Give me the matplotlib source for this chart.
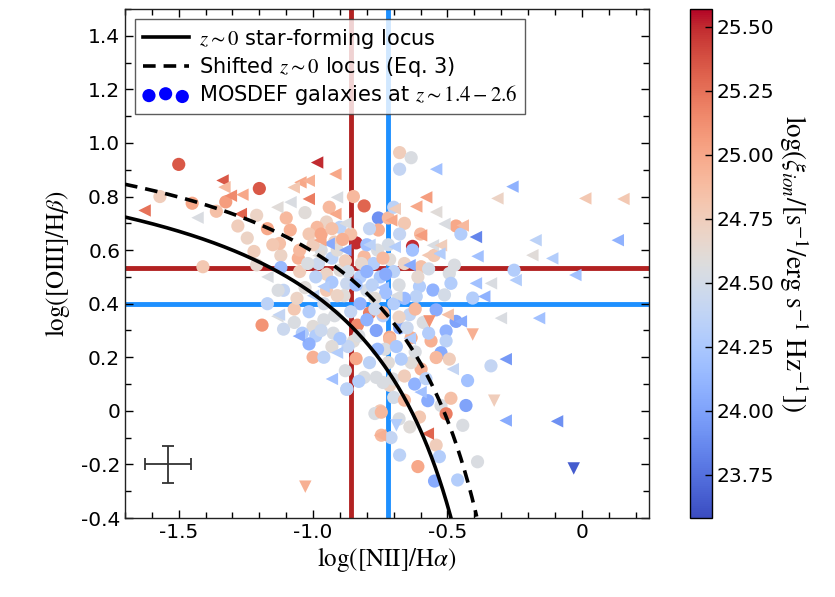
import numpy as np
import matplotlib
matplotlib.use('Agg')
import matplotlib.pyplot as plt
from matplotlib.ticker import MultipleLocator, FuncFormatter

plt.rcParams['mathtext.fontset'] = 'stix'
plt.rcParams['font.family'] = ['DejaVu Sans']
plt.rcParams['axes.unicode_minus'] = False

# detections: log([NII]/Ha), log([OIII]/Hb), log(xi_ion)
circ_x = [-1.50, -1.20, -1.57, -1.45, -1.325, -1.36, -1.21, -1.17, -1.085, -1.245,
          -1.22, -1.12, -1.055, -1.125, -0.95, -0.985, -1.015, -0.90, -0.85, -0.81,
          -0.757, -0.757, -0.84, -0.81, -0.775, -0.715, -1.41, -1.21, -1.12, -1.11,
          -0.90, -0.95, -0.875, -0.825, -0.80, -0.75, -0.885, -0.825, -1.19, -1.07,
          -1.015, -1.0, -0.92, -0.835, -0.79, -0.74, -1.11, -0.96, -0.925, -0.99,
          -1.015, -1.0, -0.96, -0.875, -0.84, -0.85, -0.765, -0.715, -0.81, -0.765,
          -0.715, -0.75, -0.77, -0.678, -0.635, -0.678, -0.66, -0.468, -0.45, -0.678,
          -0.63, -0.63, -0.474, -0.598, -0.252, -0.493, -0.487, -0.554, -0.604, -0.616,
          -0.511, -0.406, -0.542, -0.468, -0.505, -0.635, -0.561, -0.505, -0.715, -0.678,
          -0.74, -0.641, -0.524, -0.493, -0.542, -0.598, -0.635, -0.672, -0.733, -0.338,
          -0.622, -0.425, -0.703, -0.74, -0.573, -0.524, -0.487, -0.431, -0.505, -0.604,
          -0.746, -0.443, -0.746, -0.542, -0.678, -0.53, -0.61, -0.388, -0.548, -0.462,
          -0.874, -0.97, -0.93, -0.88, -0.86, -0.79, -0.72, -0.70, -0.68, -0.73,
          -0.77, -0.86, -0.95, -1.03, -1.05, -0.98, -0.66, -0.70, -0.66, -0.61,
          -0.57, -0.55, -0.60, -0.72, -0.70, -0.80, -0.92, -0.94,
          -1.05, -1.00, -0.97, -0.93, -0.91, -0.89, -1.02, -0.99, -0.96, -0.93,
          -0.91, -0.87, -0.84, -0.82, -0.80, -0.78, -0.76, -0.74, -0.73, -0.77,
          -0.80, -0.83, -0.87, -0.90, -0.93, -0.97, -1.04, -1.07, -0.88, -0.83,
          -0.79, -0.76, -0.72, -0.69, -0.68, -0.65, -0.62, -0.59, -0.57, -0.66,
          -0.62, -0.58, -0.70, -0.66, -0.64, -0.71, -0.68, -1.13, -1.17, -1.06,
          -1.15, -1.28, -1.10, -1.03]
circ_y = [0.92, 0.83, 0.80, 0.775, 0.78, 0.745, 0.73, 0.68, 0.675, 0.645,
          0.595, 0.58, 0.57, 0.625, 0.705, 0.685, 0.66, 0.685, 0.80, 0.765,
          0.72, 0.675, 0.627, 0.575, 0.55, 0.565, 0.538, 0.545, 0.535, 0.45,
          0.525, 0.51, 0.475, 0.50, 0.45, 0.50, 0.43, 0.40, 0.32, 0.38,
          0.37, 0.315, 0.355, 0.32, 0.365, 0.355, 0.305, 0.34, 0.29, 0.28,
          0.25, 0.20, 0.20, 0.08, 0.195, 0.26, 0.30, 0.275, 0.125, 0.125,
          0.095, 0.0, -0.01, 0.964, 0.945, 0.902, 0.70, 0.69, 0.66, 0.66,
          0.614, 0.60, 0.544, 0.538, 0.525, 0.513, 0.476, 0.451, 0.464, 0.427,
          0.433, 0.421, 0.377, 0.334, 0.298, 0.273, 0.261, 0.261, 0.267, 0.31,
          0.366, 0.359, 0.217, 0.193, 0.199, 0.156, 0.18, 0.193, 0.23, 0.168,
          0.10, 0.113, 0.119, 0.106, 0.038, 0.02, 0.047, 0.02, -0.011, -0.023,
          -0.005, -0.054, -0.091, -0.128, -0.165, -0.171, -0.208, -0.19, -0.262, -0.258,
          0.082, 0.60, 0.57, 0.56, 0.66, 0.68, 0.62, 0.52, 0.47, 0.44,
          0.42, 0.37, 0.45, 0.46, 0.52, 0.55, 0.55, 0.40, 0.42, 0.50,
          0.53, 0.58, 0.66, 0.72, 0.76, 0.62, 0.63, 0.76,
          0.60, 0.62, 0.66, 0.68, 0.60, 0.64, 0.55, 0.50, 0.40, 0.48,
          0.43, 0.52, 0.47, 0.55, 0.52, 0.47, 0.60, 0.57, 0.51, 0.38,
          0.34, 0.28, 0.24, 0.27, 0.24, 0.30, 0.29, 0.33, 0.15, 0.11,
          0.18, 0.23, 0.18, 0.24, 0.35, 0.31, 0.38, 0.33, 0.29, 0.13,
          0.22, 0.12, 0.05, 0.04, -0.06, -0.10, -0.03, 0.45, 0.40, 0.42,
          0.62, 0.69, 0.72, 0.74]
circ_c = [25.35, 25.35, 24.75, 25.0, 25.05, 24.85, 24.7, 25.0, 24.95, 24.7,
          24.75, 24.7, 24.95, 24.85, 24.7, 24.9, 24.8, 24.35, 24.9, 25.3,
          23.9, 24.95, 25.5, 24.9, 24.3, 24.6, 24.8, 24.65, 24.15, 24.4,
          24.6, 24.7, 24.45, 24.3, 24.5, 24.25, 24.6, 24.1, 25.1, 24.8,
          24.3, 24.6, 24.55, 25.15, 25.2, 24.3, 24.45, 24.55, 24.55, 24.3,
          24.1, 24.95, 24.35, 24.4, 25.0, 24.6, 24.0, 25.0, 24.55, 24.55,
          24.7, 24.8, 24.55, 24.75, 24.55, 24.4, 24.8, 25.0, 24.3, 24.4,
          25.5, 24.2, 24.55, 24.85, 24.3, 24.55, 24.3, 24.1, 24.3, 24.35,
          24.5, 24.3, 24.05, 24.0, 24.1, 24.95, 24.95, 24.35, 24.9, 24.05,
          24.9, 24.4, 24.05, 24.75, 24.9, 24.95, 24.6, 24.3, 24.55, 24.4,
          24.1, 24.2, 24.55, 24.55, 24.05, 24.55, 24.85, 24.0, 25.2, 24.8,
          24.9, 24.55, 24.9, 24.75, 24.35, 24.3, 25.0, 24.55, 24.05, 24.3,
          24.35, 24.55, 24.35, 24.75, 24.85, 24.4, 24.5, 24.35, 24.55, 24.2,
          24.6, 24.4, 24.8, 24.6, 24.75, 24.45, 24.7, 24.3, 24.15, 24.65,
          24.5, 24.8, 24.9, 24.9, 24.35, 24.2, 24.75, 24.9,
          24.9, 24.75, 25.0, 24.85, 24.6, 24.95, 24.55, 24.35, 24.5, 24.25,
          24.7, 24.5, 24.2, 24.65, 24.1, 24.35, 24.55, 24.9, 24.05, 24.45,
          24.1, 24.55, 24.4, 24.25, 24.6, 24.45, 24.3, 24.55, 24.55, 24.3,
          24.35, 24.15, 24.6, 24.25, 24.7, 24.45, 24.9, 24.55, 24.3, 24.75,
          24.55, 24.35, 24.5, 24.9, 24.6, 24.4, 24.55, 24.55, 24.35, 24.7,
          24.8, 24.75, 24.9, 24.6]

# upper limits in [NII]
lim_x = [-0.985, -0.917, -1.337, -1.33, -1.047, -1.016, -1.072, -1.306, -1.263, -1.016,
         -1.084, -1.43, -1.627, -1.269, -1.133, -0.911, -0.942, -0.88, -0.973, -0.917,
         -1.17, -0.961, -1.133, -0.542, -0.258, -0.314, 0.013, 0.155, -0.579, -0.616,
         -0.696, -0.542, -0.709, -0.511, -0.443, -0.394, -0.598, -0.172, 0.134, -0.554,
         -0.524, -0.53, -0.573, -0.388, -0.184, -0.11, -0.696, -0.024, -0.641, -0.394,
         -0.338, -0.246, -0.363, -0.499, -0.301, -0.159, -0.45, -0.283, -0.48, -0.283,
         -0.092, -0.573, -1.127, -1.053, -0.911, -0.93, -0.751,
         -0.98, -0.88, -0.79, -0.74, -1.0, -0.69, -0.64, -0.60]
lim_y = [0.927, 0.884, 0.86, 0.835, 0.853, 0.859, 0.834, 0.803, 0.807, 0.791,
         0.779, 0.721, 0.748, 0.735, 0.76, 0.797, 0.624, 0.60, 0.637, 0.735,
         0.50, 0.464, 0.353, 0.902, 0.837, 0.793, 0.793, 0.791, 0.797, 0.763,
         0.754, 0.742, 0.711, 0.698, 0.692, 0.649, 0.655, 0.637, 0.637, 0.618,
         0.618, 0.587, 0.581, 0.577, 0.581, 0.569, 0.612, 0.507, 0.544, 0.476,
         0.476, 0.488, 0.427, 0.359, 0.346, 0.346, 0.334, 0.193, 0.156, -0.036,
         -0.039, -0.085, 0.359, 0.279, 0.217, 0.119, -0.091,
         0.58, 0.70, 0.62, 0.46, 0.43, 0.43, 0.27, 0.07]
lim_c = [25.5, 25.0, 25.35, 24.9, 25.0, 24.95, 24.8, 25.15, 25.0, 25.2,
         24.55, 24.55, 25.25, 25.3, 24.6, 24.55, 24.05, 24.0, 25.0, 25.0,
         24.55, 24.3, 24.55, 24.2, 24.1, 24.7, 24.8, 24.8, 25.05, 25.0,
         24.75, 24.6, 25.0, 24.55, 24.9, 23.85, 25.05, 24.35, 24.1, 24.55,
         24.75, 24.3, 24.8, 24.2, 24.6, 24.3, 24.3, 24.2, 24.05, 24.2,
         24.55, 24.3, 24.1, 24.85, 24.55, 24.2, 24.05, 23.95, 24.4, 24.05,
         23.9, 25.3, 24.4, 24.05, 24.3, 24.2, 24.95,
         24.6, 24.55, 24.35, 24.2, 24.35, 24.55, 24.3, 24.2]

# upper limits in [OIII]
dlim_x = [-0.567, -0.406, -0.326, -0.69, -0.03, -1.029]
dlim_y = [0.334, 0.285, 0.038, -0.054, -0.215, -0.283]
dlim_c = [25.1, 24.95, 24.75, 24.3, 23.65, 24.95]

# median lines
x_red, y_red = -0.86, 0.535
x_blue, y_blue = -0.72, 0.40

vmin, vmax = 23.58, 25.57

fig = plt.figure(figsize=(8.35, 5.97), dpi=100)
ax = fig.add_axes([0.1497, 0.1323, 0.6275, 0.8526])
cax = fig.add_axes([0.826, 0.1323, 0.0265, 0.8526])

ax.axhline(y_red, color='#b22222', lw=3.5, zorder=1)
ax.axvline(x_red, color='#b22222', lw=3.5, zorder=1)
ax.axhline(y_blue, color='#1e90ff', lw=3.5, zorder=1)
ax.axvline(x_blue, color='#1e90ff', lw=3.5, zorder=1)

kw = dict(cmap='coolwarm', vmin=vmin, vmax=vmax, edgecolors='none', zorder=3)
sc = ax.scatter(circ_x, circ_y, c=circ_c, marker='o', s=90, **kw)
ax.scatter(lim_x, lim_y, c=lim_c, marker='<', s=80, **kw)
ax.scatter(dlim_x, dlim_y, c=dlim_c, marker='v', s=80, **kw)

# z~0 locus and the shifted locus
xx = np.linspace(-1.7, -0.3, 400)
y0 = 0.61 / (xx + 0.08) + 1.1
y1 = 0.594 / (xx + 0.0185) + 1.199
ax.plot(xx[xx < -0.485], y0[xx < -0.485], 'k-', lw=2.6, zorder=4,
        label=r'$z\sim0$ star-forming locus')
ax.plot(xx[xx < -0.388], y1[xx < -0.388], 'k--', lw=2.6, dashes=(3.5, 2.2), zorder=4,
        label=r'Shifted $z\sim0$ locus (Eq. 3)')
ax.scatter([], [], c='blue', s=90, edgecolors='none', label=r'MOSDEF galaxies at $z\sim1.4-2.6$')

ax.errorbar([-1.54], [-0.2], xerr=[0.085], yerr=[0.07], color='#333333', lw=1.3,
            capsize=4.5, capthick=1.3, zorder=5)

ax.set_xlim(-1.7, 0.25)
ax.set_ylim(-0.4, 1.5)
ax.xaxis.set_major_locator(MultipleLocator(0.5))
ax.xaxis.set_minor_locator(MultipleLocator(0.1))
ax.yaxis.set_major_locator(MultipleLocator(0.2))
ax.yaxis.set_minor_locator(MultipleLocator(0.1))
fmt = FuncFormatter(lambda v, p: '0' if abs(v) < 1e-9 else '%.1f' % v)
ax.xaxis.set_major_formatter(fmt)
ax.yaxis.set_major_formatter(fmt)
ax.tick_params(which='both', direction='in', top=True, right=True, labelsize=14.5, width=1)
ax.tick_params(which='major', length=6)
ax.tick_params(which='minor', length=4)
for s in ax.spines.values():
    s.set_linewidth(1.0)
    s.set_color('#222222')

ax.set_xlabel(r'$\log([\mathrm{NII}]/\mathrm{H}\alpha)$', fontsize=18, labelpad=2)
ax.set_ylabel(r'$\log([\mathrm{OIII}]/\mathrm{H}\beta)$', fontsize=18, labelpad=6)

leg = ax.legend(loc='upper left', fontsize=15, scatterpoints=3, handlelength=2.2,
                fancybox=False, framealpha=0.8, edgecolor='#333333',
                borderaxespad=0.5, handletextpad=0.5, labelspacing=0.2,
                borderpad=0.35)
leg.get_frame().set_linewidth(1.0)

cb = fig.colorbar(sc, cax=cax)
cb.set_ticks([23.75, 24.0, 24.25, 24.5, 24.75, 25.0, 25.25, 25.5])
cb.ax.yaxis.set_major_formatter(FuncFormatter(lambda v, p: '%.2f' % v))
cb.ax.tick_params(direction='in', labelsize=14.5, length=5, width=1)
cb.outline.set_linewidth(1.0)
cb.set_label(r'$\log(\xi_{ion}/[\mathrm{s}^{-1}/\mathrm{erg\ s}^{-1}\ \mathrm{Hz}^{-1}])$',
             fontsize=19.5, rotation=270, labelpad=26)

fig.savefig('out.png', dpi=100)
